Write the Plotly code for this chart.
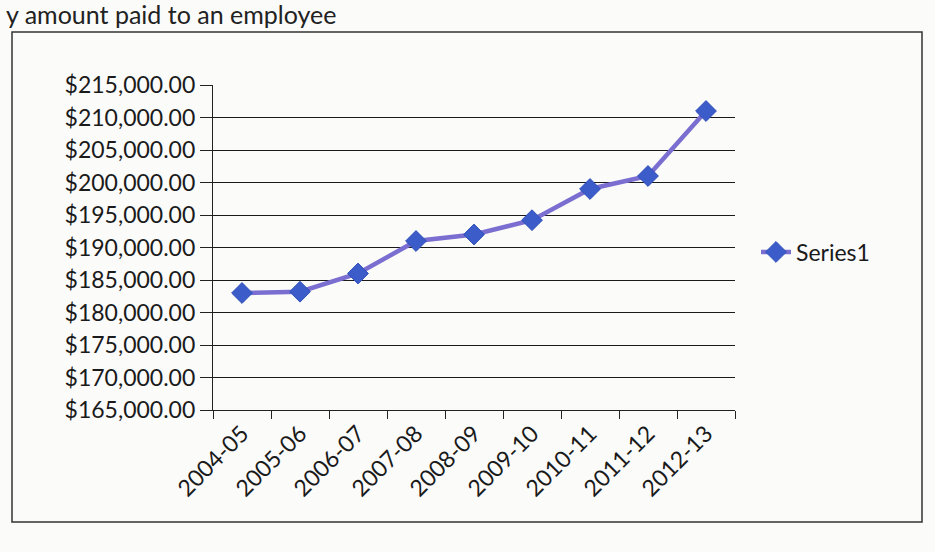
import plotly.graph_objects as go

categories = ["2004-05", "2005-06", "2006-07", "2007-08", "2008-09",
              "2009-10", "2010-11", "2011-12", "2012-13"]
series1 = [183000, 183200, 186000, 191000, 192000, 194200, 199000, 201000, 211000]
y_ticks = list(range(165000, 215001, 5000))
page_text = "y amount paid to an employee"

W, H = 935, 552
L, R, T, B = 213, 200, 85, 142
pw, ph = W - L - R, H - T - B

def px2x(px):
    return (px - L) / pw

def px2y(py):
    return (H - B - py) / ph

FONT = "Lato, 'Open Sans', sans-serif"

fig = go.Figure()
fig.add_trace(go.Scatter(
    x=categories, y=series1, name="Series1", mode="lines+markers",
    line=dict(color="#7a6fd0", width=4.5),
    marker=dict(symbol="diamond", size=16, color="#3b5cc9",
                line=dict(color="#3050b8", width=1)),
))

fig.update_layout(
    width=W, height=H,
    margin=dict(l=L, r=R, t=T, b=B),
    paper_bgcolor="#fbfbfa", plot_bgcolor="#fbfbfa",
    font=dict(family=FONT, color="#1a1a1a", size=23),
    showlegend=True,
    legend=dict(x=px2x(756), y=px2y(252), xanchor="left", yanchor="middle",
                bgcolor="rgba(0,0,0,0)", font=dict(size=23, family=FONT)),
    xaxis=dict(type="category", range=[-0.5, 8.5], showgrid=False,
               showline=True, linecolor="#222", linewidth=1.2,
               ticks="outside", tickson="boundaries", ticklen=8,
               tickcolor="#222", tickangle=-45,
               tickfont=dict(size=23, family=FONT)),
    yaxis=dict(range=[165000, 215000], tickvals=y_ticks, tickformat="$,.2f",
               showgrid=True, gridcolor="#1a1a1a", gridwidth=1.2,
               showline=True, linecolor="#222", linewidth=1.2,
               ticks="outside", ticklen=12, tickcolor="#222",
               zeroline=False, tickfont=dict(size=23, family=FONT)),
)

# chart border (as printed)
fig.add_shape(type="rect", xref="paper", yref="paper",
              x0=px2x(12), x1=px2x(922), y0=px2y(522), y1=px2y(32),
              line=dict(color="#333", width=1.5), fillcolor="rgba(0,0,0,0)",
              layer="below")

fig.add_annotation(text=page_text, xref="paper", yref="paper",
                   x=px2x(4), y=px2y(14), xanchor="left", yanchor="middle",
                   showarrow=False, font=dict(size=25, family=FONT, color="#222"))

fig.write_html("out.html")
